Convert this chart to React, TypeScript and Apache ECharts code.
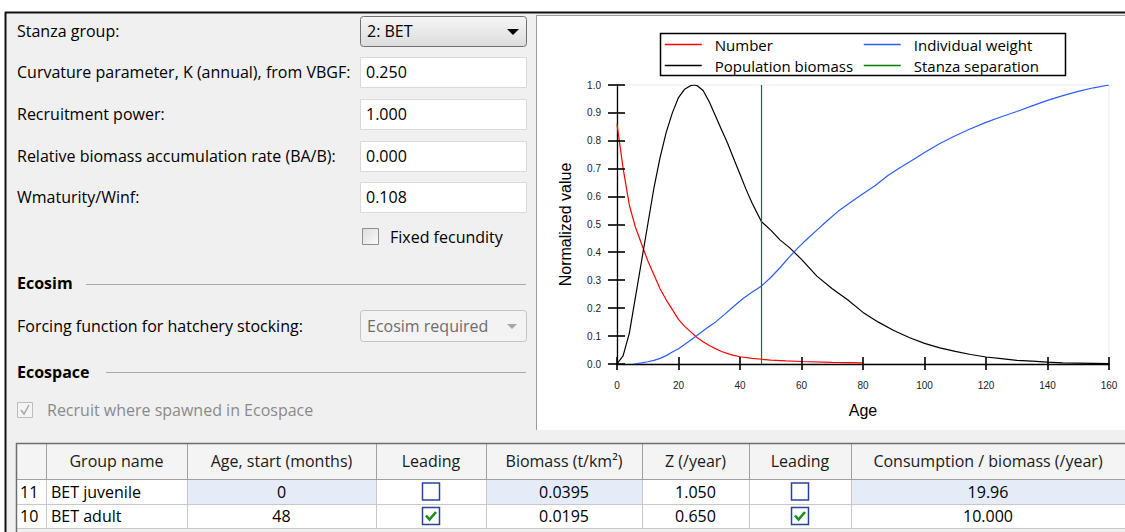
import React, { useEffect, useRef } from 'react';
import * as echarts from 'echarts';

// ---------- chart data ----------
const numberAge = [0, 2, 4, 6, 8, 10, 12, 14, 16, 18, 20, 22, 24, 26, 28, 30, 32, 34, 36, 38, 40, 44, 47, 50, 55, 60, 70, 80];
const numberValue = [0.86, 0.7, 0.57, 0.49, 0.43, 0.37, 0.32, 0.27, 0.23, 0.195, 0.16, 0.135, 0.115, 0.095, 0.08, 0.066, 0.055, 0.045, 0.037, 0.031, 0.026, 0.02, 0.017, 0.014, 0.011, 0.009, 0.006, 0.004];

const biomassAge = [0, 2, 4, 6, 8, 10, 12, 14, 16, 18, 20, 22, 24, 25, 26, 28, 30, 32, 34, 36, 38, 40, 42, 44, 47, 50, 53, 56, 60, 65, 70, 75, 80, 85, 90, 95, 100, 105, 110, 115, 120, 125, 130, 135, 140, 145, 150, 155, 160];
const biomassValue = [0, 0.03, 0.11, 0.24, 0.37, 0.5, 0.63, 0.74, 0.83, 0.9, 0.955, 0.985, 0.998, 1.0, 0.998, 0.98, 0.94, 0.89, 0.84, 0.79, 0.735, 0.68, 0.625, 0.575, 0.51, 0.48, 0.445, 0.418, 0.375, 0.315, 0.27, 0.23, 0.185, 0.15, 0.12, 0.095, 0.074, 0.058, 0.045, 0.034, 0.025, 0.019, 0.013, 0.01, 0.0065, 0.004, 0.003, 0.002, 0.001];

const weightAge = [5.5, 8, 10, 12, 14, 16, 18, 20, 23, 26, 29, 32, 35, 38, 41, 44, 47, 50, 53, 56, 59, 62, 65, 68, 72, 76, 80, 84, 88, 92, 96, 100, 105, 110, 115, 120, 125, 130, 135, 140, 145, 150, 155, 160];
const weightValue = [0, 0.004, 0.008, 0.013, 0.02, 0.03, 0.043, 0.055, 0.078, 0.102, 0.127, 0.15, 0.178, 0.207, 0.235, 0.258, 0.28, 0.31, 0.345, 0.383, 0.418, 0.45, 0.48, 0.51, 0.548, 0.58, 0.61, 0.64, 0.675, 0.703, 0.73, 0.758, 0.79, 0.818, 0.843, 0.866, 0.886, 0.905, 0.925, 0.945, 0.962, 0.977, 0.99, 1.0];

const stanzaAge = 47;
const stanzaRange = [0, 1];

const xTicks = [0, 20, 40, 60, 80, 100, 120, 140, 160];
const yTicks = [0, 0.1, 0.2, 0.3, 0.4, 0.5, 0.6, 0.7, 0.8, 0.9, 1.0];

const seriesNames = ['Number', 'Population biomass', 'Individual weight', 'Stanza separation'];

// ---------- form data ----------
const paramLabels = [
  'Stanza group:',
  'Curvature parameter, K (annual), from VBGF:',
  'Recruitment power:',
  'Relative biomass accumulation rate (BA/B):',
  'Wmaturity/Winf:',
];
const stanzaGroup = '2: BET';
const paramValues = ['0.250', '1.000', '0.000', '0.108'];

// ---------- table data ----------
const tableHeaders = ['', 'Group name', 'Age, start (months)', 'Leading', 'Biomass (t/km²)', 'Z (/year)', 'Leading', 'Consumption / biomass (/year)'];
const groupIds = ['11', '10'];
const groupNames = ['BET juvenile', 'BET adult'];
const ageStart = ['0', '48'];
const leadingB = [false, true];
const biomassVals = ['0.0395', '0.0195'];
const zVals = ['1.050', '0.650'];
const leadingQB = [false, true];
const consumptionVals = ['19.96', '10.000'];

const UI_FONT = '"Open Sans", "Noto Sans", sans-serif';
const CHART_FONT = '"Liberation Sans", Arial, sans-serif';

function txt(x: number, y: number, text: string, extra: any = {}) {
  return {
    type: 'text',
    x,
    y,
    z: 50,
    style: {
      text,
      font: `16px ${UI_FONT}`,
      fill: '#000',
      textAlign: 'left',
      textVerticalAlign: 'middle',
      ...extra,
    },
  };
}

function rect(x: number, y: number, w: number, h: number, style: any, r = 0) {
  return { type: 'rect', z: 40, shape: { x, y, width: w, height: h, r }, style };
}

function line(x1: number, y1: number, x2: number, y2: number, stroke: string, lw = 1) {
  return { type: 'line', z: 45, shape: { x1, y1, x2, y2 }, style: { stroke, lineWidth: lw } };
}

function checkBox(cx: number, cy: number, checked: boolean) {
  const els: any[] = [
    rect(cx - 8.5, cy - 8.5, 17, 17, { fill: '#fff', stroke: '#28449a', lineWidth: 1.5 }),
  ];
  if (checked) {
    els.push({
      type: 'polyline',
      z: 55,
      shape: { points: [[cx - 5, cy - 0.5], [cx - 1.5, cy + 3.5], [cx + 5, cy - 4]] },
      style: { stroke: '#15901a', lineWidth: 2.6, fill: null },
    });
  }
  return els;
}

function buildGraphics() {
  const g: any[] = [];
  g.push(rect(6, 13, 530, 519, { fill: '#f0f0f0' }));
  g.push(rect(536, 13, 589, 2, { fill: '#f0f0f0' }));
  g.push(rect(536, 430, 589, 102, { fill: '#f0f0f0' }));
  g.push(line(5, 12.5, 1125, 12.5, '#111', 2));
  g.push(line(5.5, 12, 5.5, 532, '#111', 2));
  g.push(line(536.5, 15, 536.5, 430, '#9c9c9c', 1));
  g.push(line(536, 15.5, 1125, 15.5, '#9c9c9c', 1));
  g.push(line(537, 429.5, 1125, 429.5, '#ffffff', 1));

  const rowY = [31, 72, 114, 156, 197];
  paramLabels.forEach((l, i) => g.push(txt(17, rowY[i], l)));

  g.push(
    rect(360.5, 16.5, 166, 30, {
      fill: new echarts.graphic.LinearGradient(0, 0, 0, 1, [
        { offset: 0, color: '#f6f6f6' },
        { offset: 1, color: '#dcdcdc' },
      ]),
      stroke: '#707070',
      lineWidth: 1,
    }, 3)
  );
  g.push(txt(367, 31, stanzaGroup));
  g.push({ type: 'polygon', z: 55, shape: { points: [[507, 29], [519, 29], [513, 35]] }, style: { fill: '#000' } });

  const boxY = [57, 99, 141, 182];
  paramValues.forEach((v, i) => {
    g.push(rect(360.5, boxY[i] + 0.5, 166, 30, { fill: '#fff', stroke: '#d9d9d9', lineWidth: 1 }));
    g.push(txt(366, boxY[i] + 15, v));
  });

  g.push(
    rect(362.5, 228.5, 16, 16, {
      fill: new echarts.graphic.LinearGradient(0, 0, 1, 1, [
        { offset: 0, color: '#dcdcdc' },
        { offset: 1, color: '#fbfbfb' },
      ]),
      stroke: '#8e8f8f',
      lineWidth: 1,
    })
  );
  g.push(txt(390, 237, 'Fixed fecundity'));

  g.push(txt(17, 283, 'Ecosim', { font: `bold 16px ${UI_FONT}` }));
  g.push(line(86, 284.5, 526, 284.5, '#a9a9a9', 1));
  g.push(txt(17, 326, 'Forcing function for hatchery stocking:'));
  g.push(rect(360.5, 310.5, 166, 31, { fill: '#f3f3f3', stroke: '#c3c3c3', lineWidth: 1 }, 3));
  g.push(txt(367, 326, 'Ecosim required', { fill: '#6d6d6d' }));
  g.push({ type: 'polygon', z: 55, shape: { points: [[507, 324], [517, 324], [512, 329]] }, style: { fill: '#a6a6a6' } });

  g.push(txt(17, 372, 'Ecospace', { font: `bold 16px ${UI_FONT}` }));
  g.push(line(106, 372.5, 526, 372.5, '#a9a9a9', 1));
  g.push(rect(17.5, 402.5, 15, 15, { fill: '#f4f4f4', stroke: '#bcbcbc', lineWidth: 1 }));
  g.push({
    type: 'polyline',
    z: 55,
    shape: { points: [[21, 410], [24, 414], [29, 405]] },
    style: { stroke: '#a8a8a8', lineWidth: 1.5, fill: null },
  });
  g.push(txt(47, 410, 'Recruit where spawned in Ecospace', { fill: '#8a8a8a' }));

  // legend frame
  g.push({
    type: 'rect',
    z: 60,
    shape: { x: 660.5, y: 33.5, width: 405, height: 42 },
    style: { fill: 'rgba(0,0,0,0)', stroke: '#000', lineWidth: 1.5 },
  });

  // ---------- table ----------
  const cols = [16, 46, 187, 376, 486, 642, 749, 851, 1125];
  const rows = [443, 479, 504, 528];
  g.push(rect(16, 443, 1109, 36, { fill: '#f4f4f4' }));
  g.push(rect(16, 479, 1109, 49, { fill: '#ffffff' }));
  const hi = [2, 4, 7];
  hi.forEach((c) => g.push(rect(cols[c], rows[1], cols[c + 1] - cols[c], rows[2] - rows[1], { fill: '#e5ecf8' })));
  for (let c = 1; c < cols.length - 1; c++) {
    g.push(line(cols[c] + 0.5, 443, cols[c] + 0.5, 479, '#a0a0a0', 1));
    g.push(line(cols[c] + 0.5, 479, cols[c] + 0.5, 528, '#c8c8c8', 1));
  }
  g.push(line(16, 479.5, 1125, 479.5, '#a0a0a0', 1));
  g.push(line(16, 504.5, 1125, 504.5, '#c8c8c8', 1));
  g.push(line(16, 528.5, 1125, 528.5, '#c8c8c8', 1));
  g.push(line(16, 443.5, 1125, 443.5, '#6e6e6e', 1.5));
  g.push(line(16.5, 443, 16.5, 532, '#6e6e6e', 1.5));

  const mid = (c: number) => (cols[c] + cols[c + 1]) / 2;
  const tFont = `16px ${UI_FONT}`;
  tableHeaders.forEach((h, c) => {
    if (h) g.push(txt(mid(c), 461, h, { textAlign: 'center', fill: '#1a1a1a', font: tFont }));
  });
  const rowC = [491.5, 516];
  for (let r = 0; r < 2; r++) {
    const y = rowC[r];
    g.push(txt(20, y, groupIds[r], { font: tFont }));
    g.push(txt(51, y, groupNames[r], { font: tFont }));
    g.push(txt(mid(2), y, ageStart[r], { textAlign: 'center', font: tFont }));
    checkBox(mid(3), y, leadingB[r]).forEach((e) => g.push(e));
    g.push(txt(mid(4), y, biomassVals[r], { textAlign: 'center', font: tFont }));
    g.push(txt(mid(5), y, zVals[r], { textAlign: 'center', font: tFont }));
    checkBox(mid(6), y, leadingQB[r]).forEach((e) => g.push(e));
    g.push(txt(mid(7), y, consumptionVals[r], { textAlign: 'center', font: tFont }));
  }
  return g;
}

function buildOption(): any {
  const axisLabelStyle = { fontSize: 10, color: '#222', fontFamily: CHART_FONT };
  const pair = (xs: number[], ys: number[]) => xs.map((x, i) => [x, ys[i]]);
  const legendBase = {
    orient: 'vertical',
    top: 37,
    padding: 0,
    itemWidth: 37,
    itemHeight: 14,
    itemGap: 6,
    selectedMode: false,
    itemStyle: { opacity: 0 },
    lineStyle: { width: 1.5 },
    textStyle: { fontSize: 15, color: '#000', fontFamily: UI_FONT, padding: [0, 0, 0, 8] },
  };
  const tickSeries = (name: string, data: number[][], horizontal: boolean) => ({
    type: 'custom',
    name,
    silent: true,
    clip: false,
    z: 8,
    data,
    renderItem: (_params: any, api: any) => {
      const p = api.coord([api.value(0), api.value(1)]);
      const px = Math.round(p[0]);
      const py = Math.round(p[1]);
      return horizontal
        ? { type: 'line', shape: { x1: px - 9, y1: py, x2: px + 8, y2: py }, style: { stroke: '#000', lineWidth: 1.6 } }
        : { type: 'line', shape: { x1: px, y1: py - 7, x2: px, y2: py + 6 }, style: { stroke: '#000', lineWidth: 1.6 } };
    },
  });
  return {
    animation: false,
    backgroundColor: '#ffffff',
    textStyle: { fontFamily: CHART_FONT },
    grid: { left: 617, right: 16, top: 85, bottom: 168, show: true, borderColor: '#ebebeb', borderWidth: 1, backgroundColor: 'transparent' },
    legend: [
      { ...legendBase, left: 664, data: [seriesNames[0], seriesNames[1]] },
      { ...legendBase, left: 863, data: [seriesNames[2], seriesNames[3]] },
    ],
    xAxis: {
      type: 'value',
      min: 0,
      max: 160,
      interval: 20,
      position: 'bottom',
      name: 'Age',
      nameLocation: 'middle',
      nameGap: 38,
      nameTextStyle: { fontSize: 16, color: '#000', fontFamily: CHART_FONT },
      axisLine: { show: true, onZero: false, lineStyle: { color: '#000', width: 1.3 } },
      axisTick: { show: false },
      axisLabel: { ...axisLabelStyle, margin: 16 },
      splitLine: { show: false },
    },
    yAxis: {
      type: 'value',
      min: 0,
      max: 1,
      interval: 0.1,
      position: 'left',
      name: 'Normalized value',
      nameLocation: 'middle',
      nameGap: 44,
      nameTextStyle: { fontSize: 16, color: '#000', fontFamily: CHART_FONT },
      axisLine: { show: true, onZero: false, lineStyle: { color: '#000', width: 1.3 } },
      axisTick: { show: false },
      axisLabel: { ...axisLabelStyle, margin: 16, formatter: (v: number) => v.toFixed(1) },
      splitLine: { show: false },
    },
    series: [
      {
        name: seriesNames[0],
        type: 'line',
        symbol: 'none',
        color: '#ff0000',
        lineStyle: { width: 1.2, color: '#ff0000' },
        data: pair(numberAge, numberValue),
        z: 3,
      },
      {
        name: seriesNames[1],
        type: 'line',
        symbol: 'none',
        color: '#000000',
        lineStyle: { width: 1.2, color: '#000000' },
        data: pair(biomassAge, biomassValue),
        z: 3,
      },
      {
        name: seriesNames[2],
        type: 'line',
        symbol: 'none',
        color: '#2b5cff',
        lineStyle: { width: 1.2, color: '#2b5cff' },
        data: pair(weightAge, weightValue),
        z: 3,
      },
      {
        name: seriesNames[3],
        type: 'line',
        symbol: 'none',
        color: '#008000',
        lineStyle: { width: 1.2, color: '#008000' },
        data: stanzaRange.map((v) => [stanzaAge, v]),
        z: 3,
      },
      tickSeries('x-ticks', xTicks.map((v) => [v, 0]), false),
      tickSeries('y-ticks', yTicks.map((v) => [0, v]), true),
    ],
    graphic: { elements: buildGraphics() },
  };
}

export default function App() {
  const ref = useRef<HTMLDivElement>(null);
  useEffect(() => {
    if (!ref.current) return;
    const chart = echarts.init(ref.current, null, { renderer: 'svg' });
    chart.setOption(buildOption());
    return () => chart.dispose();
  }, []);
  return (
    <div
      ref={ref}
      style={{ position: 'absolute', left: 0, top: 0, width: 1125, height: 532 }}
    />
  );
}
